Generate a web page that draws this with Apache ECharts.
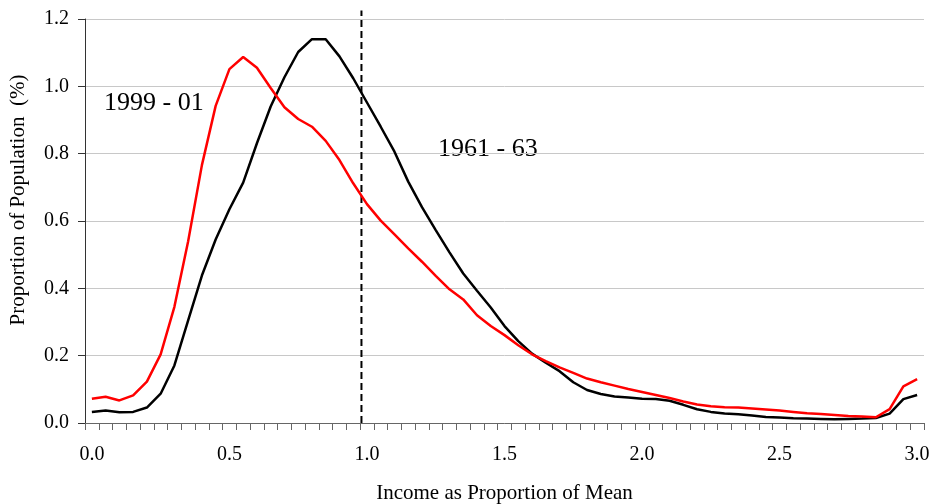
<!DOCTYPE html>
<html>
<head>
<meta charset="utf-8">
<script src="https://cdn.jsdelivr.net/npm/echarts@6/dist/echarts.min.js"></script>
<style>
  html, body { margin: 0; padding: 0; background: #fff; }
  #chart { width: 930px; height: 504px; }
</style>
</head>
<body>
<div id="chart"></div>
<script>
// income as proportion of mean, 0.00 .. 3.00 step 0.05
const xCats = ['0.00','0.05','0.10','0.15','0.20','0.25','0.30','0.35','0.40','0.45',
  '0.50','0.55','0.60','0.65','0.70','0.75','0.80','0.85','0.90','0.95',
  '1.00','1.05','1.10','1.15','1.20','1.25','1.30','1.35','1.40','1.45',
  '1.50','1.55','1.60','1.65','1.70','1.75','1.80','1.85','1.90','1.95',
  '2.00','2.05','2.10','2.15','2.20','2.25','2.30','2.35','2.40','2.45',
  '2.50','2.55','2.60','2.65','2.70','2.75','2.80','2.85','2.90','2.95','3.00'];

const pop1999 = [0.072, 0.078, 0.067, 0.082, 0.123, 0.204, 0.345, 0.540, 0.766, 0.942,
  1.051, 1.087, 1.055, 0.995, 0.938, 0.903, 0.880, 0.838, 0.781, 0.712,
  0.650, 0.601, 0.560, 0.519, 0.479, 0.437, 0.397, 0.367, 0.320, 0.288,
  0.261, 0.231, 0.204, 0.184, 0.165, 0.149, 0.132, 0.121, 0.111, 0.101,
  0.092, 0.083, 0.074, 0.064, 0.055, 0.050, 0.047, 0.046, 0.043, 0.040,
  0.037, 0.033, 0.029, 0.027, 0.024, 0.021, 0.019, 0.017, 0.041, 0.109, 0.130];

const pop1961 = [0.033, 0.037, 0.032, 0.033, 0.046, 0.087, 0.171, 0.305, 0.438, 0.545,
  0.635, 0.714, 0.831, 0.940, 1.027, 1.102, 1.140, 1.140, 1.089, 1.024,
  0.952, 0.880, 0.806, 0.717, 0.641, 0.573, 0.507, 0.444, 0.393, 0.343,
  0.288, 0.243, 0.206, 0.179, 0.154, 0.121, 0.098, 0.086, 0.079, 0.076,
  0.072, 0.071, 0.066, 0.054, 0.041, 0.033, 0.028, 0.026, 0.022, 0.018,
  0.016, 0.014, 0.013, 0.012, 0.011, 0.012, 0.013, 0.015, 0.028, 0.071, 0.083];

// y ticks
const yMin = 0, yMax = 1.2, yStep = 0.2;

// dashed reference line (mean)
const meanLineX = 0.98;
const meanLineY = [0, 1.225];

const serif = '"Liberation Serif", "Times New Roman", serif';

const chart = echarts.init(document.getElementById('chart'));

const option = {
  animation: false,
  backgroundColor: '#fff',
  grid: {
    left: 85,
    right: 6,
    top: 19,
    bottom: 81,
    containLabel: false,
    outerBoundsMode: 'none'
  },
  xAxis: [
    {
      type: 'category',
      data: xCats,
      boundaryGap: true,
      name: 'Income as Proportion of Mean',
      nameLocation: 'middle',
      nameGap: 60,
      nameTextStyle: { fontFamily: serif, fontSize: 21, color: '#000' },
      axisLine: { show: true, onZero: false, lineStyle: { color: '#666', width: 1 } },
      axisTick: { show: true, interval: 0, length: 7, inside: false, alignWithLabel: false, lineStyle: { color: '#666', width: 1 } },
      axisLabel: {
        interval: function (idx) { return idx % 10 === 0; },
        margin: 22,
        fontFamily: serif,
        fontSize: 20,
        color: '#000',
        formatter: function (v) { return Number(v).toFixed(1); }
      },
      splitLine: { show: false }
    },
    {
      type: 'value',
      min: -0.025,
      max: 3.025,
      show: false
    }
  ],
  yAxis: {
    type: 'value',
    min: yMin,
    max: yMax,
    interval: yStep,
    axisLine: { show: true, onZero: false, lineStyle: { color: '#333', width: 1 } },
    axisTick: { show: true, length: 7, inside: false, lineStyle: { color: '#333', width: 1 } },
    axisLabel: {
      margin: 16,
      fontFamily: serif,
      fontSize: 20,
      color: '#000',
      formatter: function (v) { return v.toFixed(1); }
    },
    splitLine: { show: true, lineStyle: { color: '#c8c8c8', width: 1 } }
  },
  graphic: [
    {
      type: 'text',
      x: 18,
      y: 200,
      rotation: Math.PI / 2,
      style: {
        text: 'Proportion of Population  (%)',
        font: '21px ' + serif,
        fill: '#000',
        textAlign: 'center',
        textVerticalAlign: 'middle'
      }
    },
    {
      type: 'text',
      x: 104,
      y: 103,
      style: {
        text: '1999 - 01',
        font: '26px ' + serif,
        fill: '#000',
        textAlign: 'left',
        textVerticalAlign: 'middle'
      }
    },
    {
      type: 'text',
      x: 438,
      y: 149,
      style: {
        text: '1961 - 63',
        font: '26px ' + serif,
        fill: '#000',
        textAlign: 'left',
        textVerticalAlign: 'middle'
      }
    }
  ],
  series: [
    {
      name: 'mean',
      type: 'line',
      xAxisIndex: 1,
      data: [[meanLineX, meanLineY[0]], [meanLineX, meanLineY[1]]],
      symbol: 'none',
      clip: false,
      silent: true,
      lineStyle: { color: '#000', width: 2, type: [7, 4] },
      z: 1
    },
    {
      name: '1961 - 63',
      type: 'line',
      data: pop1961,
      symbol: 'none',
      lineStyle: { color: '#000', width: 2.5 },
      z: 2
    },
    {
      name: '1999 - 01',
      type: 'line',
      data: pop1999,
      symbol: 'none',
      lineStyle: { color: '#ff0000', width: 2.5 },
      z: 3
    }
  ]
};

chart.setOption(option);
</script>
</body>
</html>
